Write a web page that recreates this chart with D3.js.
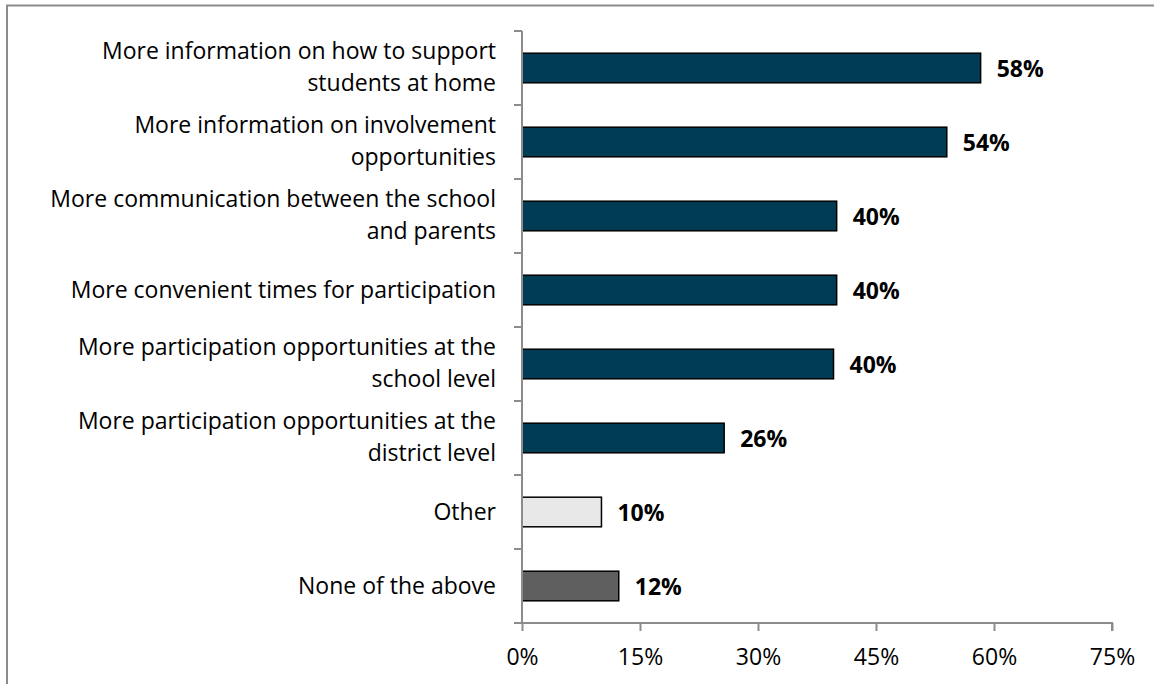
<!DOCTYPE html>
<html>
<head>
<meta charset="utf-8">
<script src="https://d3js.org/d3.v7.min.js"></script>
<style>
  body { margin: 0; background: #fff; }
  svg { display: block; font-family: "Open Sans", "Noto Sans", sans-serif; }
</style>
</head>
<body>
<div id="chart"></div>
<script>
// answer categories, one entry per bar (lines split as in the original)
var categories = [
  ["More information on how to support", "students at home"],
  ["More information on involvement", "opportunities"],
  ["More communication between the school", "and parents"],
  ["More convenient times for participation"],
  ["More participation opportunities at the", "school level"],
  ["More participation opportunities at the", "district level"],
  ["Other"],
  ["None of the above"]
];
// percent of respondents
var values = [58.3, 54.0, 40.0, 40.0, 39.6, 25.7, 10.1, 12.3];
var valueLabels = ["58%", "54%", "40%", "40%", "40%", "26%", "10%", "12%"];
var fills = ["#003d55", "#003d55", "#003d55", "#003d55", "#003d55", "#003d55", "#e8e8e8", "#5f5f5f"];
var xTicks = [0, 15, 30, 45, 60, 75];

var width = 1154, height = 684;
var margin = {top: 31, left: 522, right: 42, bottom: 61};
var fontSize = 23;

var svg = d3.select("#chart").append("svg")
  .attr("width", width)
  .attr("height", height);

// chart area frame (right and bottom edges fall outside the picture)
svg.append("rect")
  .attr("x", 7).attr("y", 5.5)
  .attr("width", 1160).attr("height", 700)
  .attr("fill", "none")
  .attr("stroke", "#8c8c8c")
  .attr("stroke-width", 2);

var x = d3.scaleLinear()
  .domain([0, 75])
  .range([margin.left, width - margin.right]);

var y = d3.scaleBand()
  .domain(d3.range(categories.length))
  .range([margin.top, height - margin.bottom])
  .paddingInner(0.6)
  .paddingOuter(0.3);

// band edges for the category ticks
var step = y.step();
var y0 = margin.top;

// bars
svg.selectAll(".bar")
  .data(values)
  .enter().append("rect")
  .attr("class", "bar")
  .attr("x", x(0))
  .attr("y", function(d, i) { return y(i); })
  .attr("width", function(d) { return x(d) - x(0); })
  .attr("height", y.bandwidth())
  .attr("fill", function(d, i) { return fills[i]; })
  .attr("stroke", "#000")
  .attr("stroke-width", 1.5);

// value labels
svg.selectAll(".val")
  .data(values)
  .enter().append("text")
  .attr("class", "val")
  .attr("x", function(d) { return x(d) + 16; })
  .attr("y", function(d, i) { return y(i) + y.bandwidth() / 2 + 9; })
  .attr("font-size", fontSize)
  .attr("font-weight", "bold")
  .attr("fill", "#000")
  .text(function(d, i) { return valueLabels[i]; });

// x axis
var xAxis = svg.append("g")
  .attr("transform", "translate(0," + (height - margin.bottom) + ")")
  .call(d3.axisBottom(x)
    .tickValues(xTicks)
    .tickSize(8)
    .tickPadding(18)
    .tickFormat(function(d) { return d + "%"; }));
xAxis.select(".domain").attr("stroke", "#8c8c8c").attr("stroke-width", 2)
  .attr("d", "M" + x(0) + ",0H" + x(75) + "V8");
xAxis.selectAll(".tick line").attr("stroke", "#8c8c8c").attr("stroke-width", 2);
xAxis.selectAll(".tick text")
  .attr("font-size", fontSize)
  .attr("fill", "#000")
  .attr("font-family", "\"Open Sans\", sans-serif");

// y axis line and ticks between categories
var yEdges = d3.range(categories.length + 1).map(function(i) { return y0 + i * step; });
svg.append("line")
  .attr("x1", x(0)).attr("x2", x(0))
  .attr("y1", yEdges[0]).attr("y2", yEdges[yEdges.length - 1])
  .attr("stroke", "#8c8c8c").attr("stroke-width", 2);
svg.selectAll(".ytick")
  .data(yEdges)
  .enter().append("line")
  .attr("class", "ytick")
  .attr("x1", x(0) - 8).attr("x2", x(0))
  .attr("y1", function(d) { return d; })
  .attr("y2", function(d) { return d; })
  .attr("stroke", "#8c8c8c").attr("stroke-width", 2);

// category labels
var cat = svg.selectAll(".cat")
  .data(categories)
  .enter().append("text")
  .attr("class", "cat")
  .attr("text-anchor", "end")
  .attr("font-size", fontSize)
  .attr("fill", "#000")
  .attr("transform", function(d, i) {
    return "translate(496," + (y(i) + y.bandwidth() / 2) + ")";
  });
cat.selectAll("tspan")
  .data(function(d) { return d; })
  .enter().append("tspan")
  .attr("x", 0)
  .attr("y", function(d, j, nodes) {
    return nodes.length > 1 ? (j === 0 ? -9 : 23) : 8;
  })
  .text(function(d) { return d; });
</script>
</body>
</html>
